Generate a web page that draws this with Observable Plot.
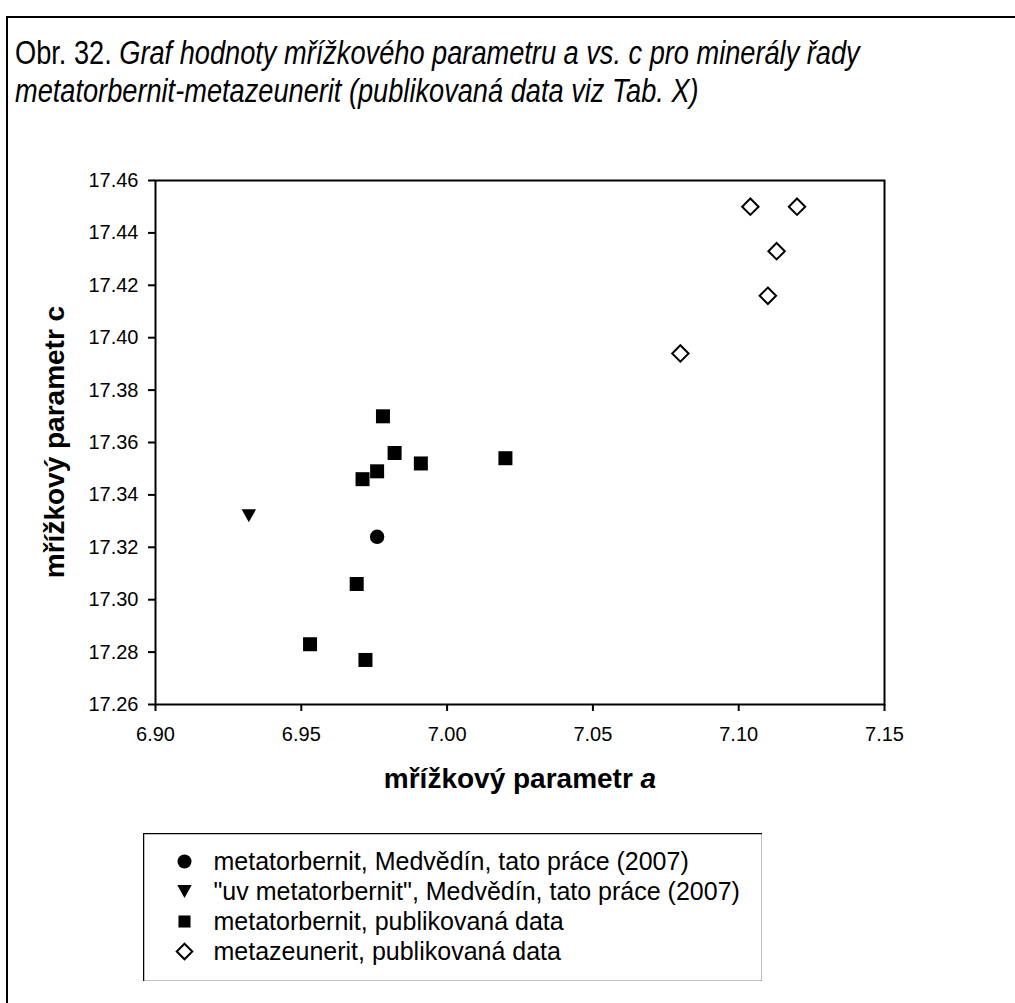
<!DOCTYPE html>
<html>
<head>
<meta charset="utf-8">
<script src="https://cdn.jsdelivr.net/npm/d3@7"></script>
<script src="https://cdn.jsdelivr.net/npm/@observablehq/plot@0.6"></script>
<style>
  html, body { margin: 0; padding: 0; background: #fff; }
  #page { position: relative; width: 1015px; height: 1003px; overflow: hidden; background: #fff; font-family: "Liberation Sans", Arial, sans-serif; color: #000; }
  #border { position: absolute; left: 6px; top: 16px; width: 1100px; height: 1100px; border-left: 2px solid #000; border-top: 2px solid #000; box-sizing: border-box; }
  .title { position: absolute; left: 15px; white-space: nowrap; font-family: "Liberation Sans", Arial, sans-serif; font-size: 30px; line-height: 1; transform-origin: 0 50%; }
  .title i { font-style: italic; }
  #chart { position: absolute; left: 0; top: 0; }
  .axtitle { position: absolute; font-weight: bold; font-size: 28px; line-height: 1; white-space: nowrap; }
  #legend { position: absolute; left: 143px; top: 833px; }
</style>
</head>
<body>
<div id="page">
  <div id="border"></div>
  <div id="chart"></div>
  <div class="title" id="t1" style="top:52px">Obr. 32. <i>Graf hodnoty mřížkového parametru a vs. c pro minerály řady</i></div>
  <div class="title" id="t2" style="top:90px"><i>metatorbernit-metazeunerit (publikovaná data viz Tab. X)</i></div>
  <div class="axtitle" id="xt" style="left:520px; top:779px; transform: translate(-50%,-50%);">mřížkový parametr <i>a</i></div>
  <div class="axtitle" id="yt" style="left:55px; top:442px; transform: translate(-50%,-50%) rotate(-90deg);">mřížkový parametr c</div>
  <div id="legend"></div>
</div>
<script>
// ---- data ----
const seriesNames = [
  "metatorbernit, Medvědín, tato práce (2007)",
  "\"uv metatorbernit\", Medvědín, tato práce (2007)",
  "metatorbernit, publikovaná data",
  "metazeunerit, publikovaná data"
];
const thisWorkA = [6.976];
const thisWorkC = [17.324];
const uvA = [6.932];
const uvC = [17.332];
const publishedTorA = [6.978, 6.982, 6.991, 6.976, 6.971, 7.020, 6.969, 6.953, 6.972];
const publishedTorC = [17.370, 17.356, 17.352, 17.349, 17.346, 17.354, 17.306, 17.283, 17.277];
const zeunA = [7.104, 7.120, 7.113, 7.110, 7.080];
const zeunC = [17.450, 17.450, 17.433, 17.416, 17.394];
const xTicks = [6.90, 6.95, 7.00, 7.05, 7.10, 7.15];
const yTicks = [17.26, 17.28, 17.30, 17.32, 17.34, 17.36, 17.38, 17.40, 17.42, 17.44, 17.46];

const pts = (A, C) => A.map((a, i) => ({a, c: C[i]}));

// downward triangle symbol
const triangleDown = {
  draw(context, size) {
    const r = Math.sqrt(size / Math.PI);
    const hw = r * 1.03, hh = r * 0.93;
    context.moveTo(-hw, -hh);
    context.lineTo(hw, -hh);
    context.lineTo(0, hh);
    context.closePath();
  }
};

const fontFamily = '"Liberation Sans", Arial, sans-serif';

const chart = Plot.plot({
  width: 1015,
  height: 760,
  marginLeft: 155,
  marginRight: 131,
  marginTop: 180,
  marginBottom: 56,
  style: {fontSize: "20px", fontFamily, color: "#000", background: "transparent"},
  x: {domain: [6.90, 7.15]},
  y: {domain: [17.26, 17.46]},
  marks: [
    Plot.axisX({ticks: xTicks, tickFormat: d3.format(".2f"), tickSize: 7, tickPadding: 15, strokeWidth: 2, label: null, fill: "#000"}),
    Plot.axisY({ticks: yTicks, tickFormat: d3.format(".2f"), tickSize: 7, tickPadding: 10, strokeWidth: 2, label: null, fill: "#000"}),
    Plot.frame({stroke: "#000", strokeWidth: 2}),
    Plot.dot(pts(publishedTorA, publishedTorC), {x: "a", y: "c", symbol: "square", r: 7.9, fill: "#000", stroke: "none"}),
    Plot.dot(pts(zeunA, zeunC), {x: "a", y: "c", symbol: "diamond2", r: 7.4, fill: "#fff", stroke: "#000", strokeWidth: 2}),
    Plot.dot(pts(uvA, uvC), {x: "a", y: "c", symbol: triangleDown, r: 7, fill: "#000", stroke: "none"}),
    Plot.dot(pts(thisWorkA, thisWorkC), {x: "a", y: "c", symbol: "circle", r: 7.2, fill: "#000", stroke: "none"})
  ]
});
document.getElementById("chart").appendChild(chart);

// ---- legend (drawn with Plot) ----
const legendSymbols = ["circle", triangleDown, "square", "diamond2"];
const legendR = [7, 7, 6.8, 7];
const legendFill = ["#000", "#000", "#000", "#fff"];
const legend = Plot.plot({
  width: 619,
  height: 148,
  margin: 0,
  style: {fontSize: "25px", fontFamily, color: "#000", background: "transparent"},
  y: {type: "point", domain: seriesNames, range: [28, 118], padding: 0, axis: null},
  x: {axis: null},
  marks: [
    Plot.frame({stroke: "#000", strokeWidth: 1.5}),
    ...seriesNames.map((name, i) => Plot.dot([name], {
      y: d => d, frameAnchor: "left", dx: 41,
      symbol: legendSymbols[i], r: legendR[i], fill: legendFill[i],
      stroke: i === 3 ? "#000" : "none", strokeWidth: 2
    })),
    Plot.text(seriesNames, {y: d => d, text: d => d, frameAnchor: "left", dx: 70, textAnchor: "start", fill: "#000"})
  ]
});
document.getElementById("legend").appendChild(legend);

// narrow title: Liberation Sans condensed horizontally, fitted to the reference line length
const t1 = document.getElementById("t1"), t2 = document.getElementById("t2");
const squeeze = 0.8;
const target = 845;
const w = t1.getBoundingClientRect().width;
const fs = 30 * target / (w * squeeze);
for (const t of [t1, t2]) {
  t.style.fontSize = fs + "px";
  t.style.transform = `translateY(-50%) scaleX(${squeeze})`;
}
</script>
</body>
</html>
